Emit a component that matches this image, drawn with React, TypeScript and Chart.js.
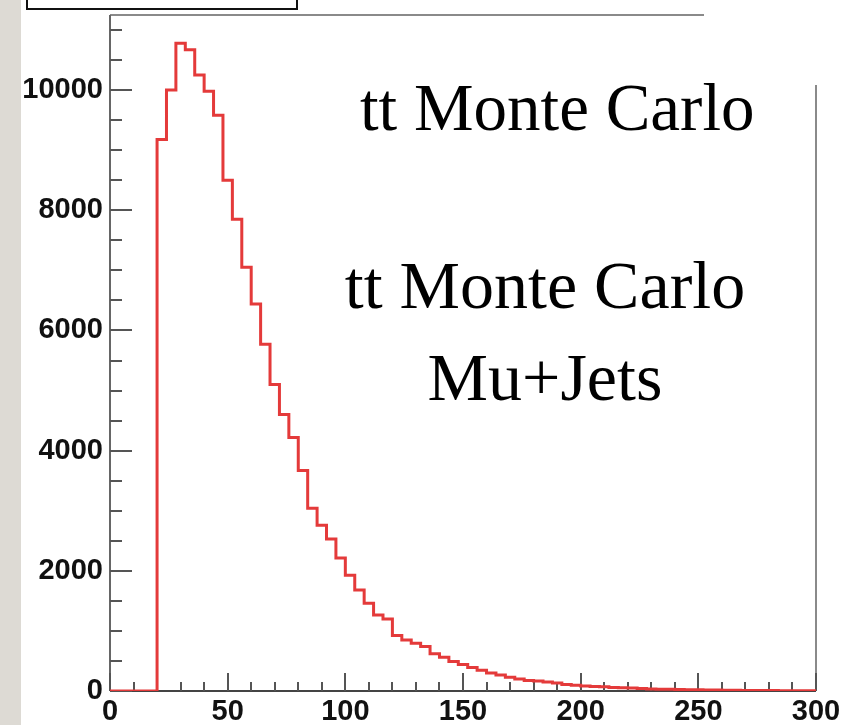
import React, { useEffect, useRef } from "react";
import { Chart, registerables } from "chart.js";

Chart.register(...registerables);

// Histogram: bins of width 4 from 0 to 300
const BIN_START = 0;
const BIN_WIDTH = 4;
const X_MIN = 0;
const X_MAX = 300;
const Y_MIN = 0;
const Y_MAX = 11250;

const counts = [
  0, 0, 0, 0, 0,
  9180, 10000, 10780, 10670, 10250, 9980, 9580, 8500, 7850, 7050,
  6440, 5770, 5100, 4600, 4220, 3670, 3040, 2760, 2530, 2215,
  1925, 1680, 1460, 1265, 1200, 925, 850, 795, 740, 620,
  560, 490, 440, 390, 345, 300, 265, 230, 200, 175,
  165, 150, 135, 110, 95, 85, 75, 70, 60, 55,
  50, 40, 35, 30, 28, 25, 22, 20, 18, 16,
  14, 12, 10, 9, 8, 7, 6, 5, 4, 3,
];

const xMajorTicks = [0, 50, 100, 150, 200, 250, 300];
const xMinorTicks = [10, 20, 30, 40, 60, 70, 80, 90, 110, 120, 130, 140, 160, 170, 180, 190, 210, 220, 230, 240, 260, 270, 280, 290];
const yMajorTicks = [0, 2000, 4000, 6000, 8000, 10000];
const yMinorTicks = [500, 1000, 1500, 2500, 3000, 3500, 4500, 5000, 5500, 6500, 7000, 7500, 8500, 9000, 9500, 10500, 11000];

const titleLine = "tt Monte Carlo";
const subtitleLines = ["tt Monte Carlo", "Mu+Jets"];

const decorPlugin = {
  id: "decor",
  beforeDraw(chart: any) {
    const ctx = chart.ctx;
    ctx.save();
    ctx.fillStyle = "#ffffff";
    ctx.fillRect(0, 0, chart.width, chart.height);
    ctx.fillStyle = "#dddad4";
    ctx.fillRect(0, 0, 21, chart.height);
    // partially visible box at top
    ctx.strokeStyle = "#111";
    ctx.lineWidth = 2;
    ctx.strokeRect(27, -10, 270, 19);
    ctx.restore();
  },
  beforeDatasetsDraw(chart: any) {
    const ctx = chart.ctx;
    const x = chart.scales.x;
    const y = chart.scales.y;
    const a = chart.chartArea;
    ctx.save();
    // frame
    ctx.lineWidth = 2;
    ctx.strokeStyle = "#8a8a8a";
    ctx.beginPath();
    ctx.moveTo(a.left, a.top);
    ctx.lineTo(704, a.top);
    ctx.stroke();
    ctx.beginPath();
    ctx.moveTo(a.right, 85);
    ctx.lineTo(a.right, a.bottom);
    ctx.stroke();
    ctx.strokeStyle = "#666";
    ctx.beginPath();
    ctx.moveTo(a.left, a.top);
    ctx.lineTo(a.left, a.bottom);
    ctx.stroke();
    ctx.strokeStyle = "#444";
    ctx.beginPath();
    ctx.moveTo(a.left, a.bottom);
    ctx.lineTo(a.right, a.bottom);
    ctx.stroke();
    // ticks inside
    ctx.strokeStyle = "#555";
    ctx.lineWidth = 2;
    ctx.beginPath();
    for (const v of yMajorTicks) {
      const py = Math.round(y.getPixelForValue(v));
      ctx.moveTo(a.left, py);
      ctx.lineTo(a.left + 22, py);
    }
    for (const v of yMinorTicks) {
      const py = Math.round(y.getPixelForValue(v));
      ctx.moveTo(a.left, py);
      ctx.lineTo(a.left + 12, py);
    }
    for (const v of xMajorTicks) {
      const px = Math.round(x.getPixelForValue(v));
      ctx.moveTo(px, a.bottom);
      ctx.lineTo(px, a.bottom - 18);
    }
    for (const v of xMinorTicks) {
      const px = Math.round(x.getPixelForValue(v));
      ctx.moveTo(px, a.bottom);
      ctx.lineTo(px, a.bottom - 9);
    }
    ctx.stroke();
    ctx.restore();
  },
  afterDraw(chart: any) {
    const ctx = chart.ctx;
    ctx.save();
    ctx.fillStyle = "#000";
    ctx.font = '67px "Liberation Serif", serif';
    ctx.textBaseline = "alphabetic";
    ctx.textAlign = "left";
    ctx.fillText(titleLine, 360, 130);
    ctx.font = '68px "Liberation Serif", serif';
    ctx.textAlign = "center";
    ctx.fillText(subtitleLines[0], 545, 308);
    ctx.fillText(subtitleLines[1], 545, 400);
    ctx.restore();
  },
};

export default function App() {
  const ref = useRef<HTMLCanvasElement | null>(null);
  useEffect(() => {
    if (!ref.current) return;
    const points = counts.map((c, i) => ({ x: BIN_START + i * BIN_WIDTH, y: c }));
    points.push({ x: X_MAX, y: counts[counts.length - 1] });
    const tickFont = { family: '"Liberation Sans", Arial, sans-serif', size: 29, weight: "bold" as const };
    const chart = new Chart(ref.current, {
      type: "line",
      data: {
        datasets: [
          {
            data: points,
            borderColor: "rgb(228, 58, 58)",
            borderWidth: 3,
            pointRadius: 0,
            stepped: "before",
            fill: false,
            tension: 0,
          },
        ],
      },
      options: {
        animation: false,
        responsive: false,
        events: [],
        layout: { padding: { left: 0, top: 15, right: 28, bottom: 0 } },
        plugins: { legend: { display: false }, tooltip: { enabled: false }, title: { display: false } },
        scales: {
          x: {
            type: "linear",
            min: X_MIN,
            max: X_MAX,
            grid: { display: false, drawTicks: false },
            border: { display: false },
            ticks: {
              font: tickFont,
              color: "#111",
              padding: 4,
              maxRotation: 0,
              autoSkip: false,
              callback: (v: any) => String(v),
            },
            afterBuildTicks: (s: any) => {
              s.ticks = xMajorTicks.map((v) => ({ value: v }));
            },
            afterFit: (s: any) => {
              s.height = 34;
              s.paddingLeft = 0;
              s.paddingRight = 0;
            },
          },
          y: {
            type: "linear",
            min: Y_MIN,
            max: Y_MAX,
            grid: { display: false, drawTicks: false },
            border: { display: false },
            ticks: {
              font: tickFont,
              color: "#111",
              padding: 7,
              autoSkip: false,
              callback: (v: any) => String(v),
            },
            afterBuildTicks: (s: any) => {
              s.ticks = yMajorTicks.map((v) => ({ value: v }));
            },
            afterFit: (s: any) => {
              s.width = 110;
              s.paddingTop = 0;
              s.paddingBottom = 0;
            },
          },
        },
      },
      plugins: [decorPlugin],
    });
    return () => chart.destroy();
  }, []);
  return (
    <div style={{ position: "absolute", left: 0, top: 0, width: 844, height: 725, overflow: "hidden" }}>
      <canvas ref={ref} width={844} height={725} style={{ display: "block" }} />
    </div>
  );
}
